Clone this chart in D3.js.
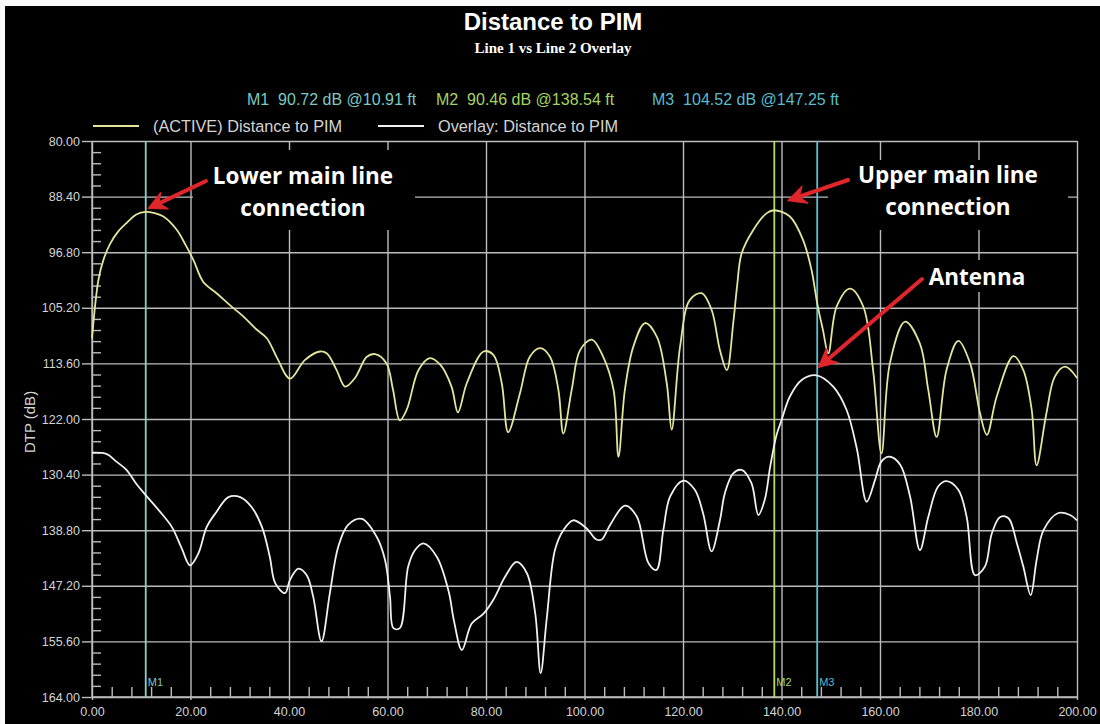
<!DOCTYPE html>
<html>
<head>
<meta charset="utf-8">
<script src="https://cdn.jsdelivr.net/npm/d3@7"></script>
<style>
  html, body { margin: 0; padding: 0; background: #fff; }
  svg { display: block; }
  text { white-space: pre; }
</style>
</head>
<body>
<svg id="chart" width="1100" height="724"></svg>
<script>
// ---- Data ---------------------------------------------------------------
// Active trace: distance (ft) and DTP level (dB)
const activeFt = [0, 1.3, 2.3, 3.7, 5.3, 7.0, 9.0, 10.9, 12.7, 14.5, 17.2, 19.0, 20.6, 22.6, 25.3, 28.0, 30.7,
  33.3, 35.5, 37.6, 40.2, 43.2, 46.3, 47.7, 49.6, 51.4, 53.4, 55.8, 57.5, 59.8, 61.1, 62.5, 63.9, 66.3,
  68.6, 70.7, 73.0, 74.3, 76.1, 79.5, 81.5, 83.2, 84.5, 86.9, 88.9, 91.0, 93.0, 94.7, 95.7, 97.4, 99.1,
  101.5, 103.8, 105.9, 106.9, 108.2, 109.9, 112.3, 114.7, 116.7, 117.7, 119.4, 121.4, 123.8, 125.8, 127.5,
  128.9, 130.2, 131.0, 131.9, 134.3, 137.0, 138.5, 141.7, 144.4, 146.1, 147.25, 148.4, 149.5, 151.2, 153.9, 156.6,
  158.6, 160.3, 162.0, 165.1, 168.1, 169.8, 171.5, 173.5, 175.9, 178.3, 180.3, 181.7, 183.7, 187.1, 189.1,
  190.8, 191.8, 193.8, 195.5, 197.6, 200];
const activeDb = [109.8, 101.0, 98.0, 95.5, 93.7, 92.4, 91.1, 90.7, 90.9, 91.4, 93.4, 95.7, 98.0, 101.3, 103.0, 104.8, 106.5,
  108.4, 109.8, 112.8, 115.9, 113.1, 111.8, 112.1, 114.5, 117.1, 115.8, 112.6, 112.2, 113.6, 117.5, 122.2, 120.6, 114.6,
  112.8, 113.8, 117.1, 121.0, 116.6, 111.8, 112.3, 116.6, 124.0, 118.1, 112.6, 111.3, 112.6, 117.6, 124.2, 117.6, 111.6,
  110.0, 112.6, 117.6, 127.7, 117.6, 111.1, 107.5, 109.6, 116.6, 123.6, 111.1, 104.0, 103.0, 105.5, 111.6,
  114.6, 107.5, 101.8, 97.0, 93.4, 90.9, 90.46, 91.4, 95.0, 99.5, 104.52, 108.5, 112.1, 105.0, 102.3, 105.0,
  114.6, 127.2, 113.6, 107.3, 110.6, 117.6, 124.7, 114.6, 110.2, 113.6, 121.1, 124.4, 118.6, 112.5, 114.6,
  120.6, 129.0, 121.1, 115.6, 114.1, 115.8];

// Overlay trace: distance (ft) and DTP level (dB)
const overlayFt = [0, 3.0, 4.9, 7.0, 9.1, 10.9, 13.8, 16.2, 18.2, 19.9, 21.6, 23.3, 25.3, 27.7, 30.1, 32.4, 34.5,
  36.1, 37.2, 39.2, 40.2, 41.9, 43.6, 44.9, 46.6, 48.3, 50.0, 52.0, 54.8, 57.8, 59.5, 60.5, 61.2, 62.5, 64.2,
  65.6, 67.3, 70.0, 72.4, 73.5, 75.1, 77.1, 79.5, 81.5, 83.9, 86.2, 88.3, 90.0, 91.1, 92.3, 94.0, 95.7, 97.7,
  100.4, 102.4, 103.5, 105.2, 108.2, 110.6, 113.0, 114.6, 116.0, 117.4, 120.1, 122.4, 124.1, 125.8, 127.5,
  128.5, 130.2, 131.9, 133.9, 135.3, 136.6, 137.7, 139.0, 140.0, 141.7, 144.1, 147.1, 150.5, 153.2, 155.3,
  157.3, 159.0, 160.3, 162.0, 164.1, 166.1, 168.1, 169.8, 171.8, 173.5, 175.9, 177.6, 179.3, 181.3, 182.7,
  184.4, 186.1, 187.8, 189.1, 190.6, 191.8, 193.2, 196.2, 198.6, 200];
const overlayDb = [127.1, 127.3, 128.4, 129.7, 131.9, 133.5, 136.0, 138.3, 141.5, 144.1, 142.3, 138.3, 136.0, 133.8, 133.8, 135.3, 138.3,
  142.8, 146.8, 148.3, 146.3, 144.6, 145.6, 148.8, 155.6, 148.3, 141.3, 138.0, 137.1, 139.8, 143.3, 148.8, 153.6, 153.6, 144.3,
  141.8, 140.8, 142.8, 148.0, 152.5, 156.9, 152.9, 151.4, 149.3, 145.8, 143.6, 145.3, 151.4, 160.4, 152.4, 141.8, 138.8, 137.3,
  138.5, 140.2, 140.2, 138.0, 135.1, 136.7, 143.8, 144.8, 138.8, 133.7, 131.3, 132.7, 136.3, 142.0, 137.3,
  133.2, 130.2, 129.7, 131.7, 136.5, 134.2, 129.2, 124.4, 122.2, 118.6, 116.1, 115.4, 117.1, 120.6, 126.5,
  134.5, 131.2, 128.4, 127.7, 128.9, 133.7, 141.8, 136.8, 132.2, 131.4, 132.7, 136.8, 145.6, 144.3, 139.3,
  136.8, 137.0, 140.8, 144.3, 148.6, 143.3, 138.8, 136.2, 136.5, 137.3];

// Axis ticks
const xTicks = [0, 20, 40, 60, 80, 100, 120, 140, 160, 180, 200];
const yTicks = [80, 88.4, 96.8, 105.2, 113.6, 122, 130.4, 138.8, 147.2, 155.6, 164];

// Markers
const markerNames = ["M1", "M2", "M3"];
const markerFt = [10.91, 138.54, 147.25];
const markerDb = [90.72, 90.46, 104.52];

// Series names
const seriesNames = ["(ACTIVE) Distance to PIM", "Overlay: Distance to PIM"];

// ---- Layout & style ------------------------------------------------------
const W = 1100, H = 724;
const plot = { left: 92, right: 1077, top: 141, bottom: 697 };
const FONT = "Liberation Sans, Arial, sans-serif";
const COL = {
  bg: "#000",
  grid: "#bcbcbc",
  label: "#d4d4d4",
  active: "#e4e49c",
  overlay: "#f0f0f0",
  red: "#e0262b",
  markerLine: ["#8ccfc9", "#b6dc58", "#5fbfcf"],
  markerText: ["#7fc8c0", "#a4d460", "#58bccd"]
};

const svg = d3.select("#chart");

// page frame: thin light edge on top/left, black canvas
svg.append("rect").attr("width", W).attr("height", H).attr("fill", "#fafafa");
svg.append("rect").attr("x", 5).attr("y", 6).attr("width", W - 5).attr("height", H - 6).attr("fill", COL.bg);

const x = d3.scaleLinear().domain([0, 200]).range([plot.left, plot.right]);
const y = d3.scaleLinear().domain([80, 164]).range([plot.top, plot.bottom]);

// ---- Titles --------------------------------------------------------------
svg.append("text").attr("x", 553).attr("y", 30).attr("text-anchor", "middle")
  .attr("font-family", FONT).attr("font-weight", "bold")
  .attr("font-size", 24).attr("fill", "#fff").text("Distance to PIM");
svg.append("text").attr("x", 553).attr("y", 53).attr("text-anchor", "middle")
  .attr("font-family", "Liberation Serif, Times New Roman, serif").attr("font-weight", "bold")
  .attr("font-size", 15).attr("fill", "#fff").text("Line 1 vs Line 2 Overlay");

// Marker readout row
const readoutX = [247, 436, 652];
markerNames.forEach((m, i) => {
  svg.append("text").attr("x", readoutX[i]).attr("y", 105)
    .attr("font-family", FONT).attr("font-size", 16)
    .attr("fill", COL.markerText[i])
    .text(`${m}  ${markerDb[i].toFixed(2)} dB @${markerFt[i].toFixed(2)} ft`);
});

// Legend
const legendX = [93, 378];
const legendColors = [COL.active, COL.overlay];
seriesNames.forEach((s, i) => {
  svg.append("line").attr("x1", legendX[i]).attr("x2", legendX[i] + 46)
    .attr("y1", 126).attr("y2", 126).attr("stroke", legendColors[i]).attr("stroke-width", 2);
  svg.append("text").attr("x", legendX[i] + 60).attr("y", 131.5)
    .attr("font-family", FONT).attr("font-size", 16.3)
    .attr("fill", COL.label).text(s);
});

// ---- Grid & axes ---------------------------------------------------------
const styleAxis = g => {
  g.selectAll("path.domain").attr("stroke", COL.grid).attr("stroke-width", 1.4);
  g.selectAll(".tick line").attr("stroke", COL.grid).attr("stroke-width", 1.4);
  g.selectAll(".tick text").attr("fill", COL.label)
    .attr("font-family", FONT).attr("font-size", 12.5);
};

// horizontal gridlines
svg.append("g").attr("transform", `translate(${plot.left},0)`)
  .call(d3.axisLeft(y).tickValues(yTicks).tickSize(-(plot.right - plot.left)).tickFormat(""))
  .call(styleAxis).call(g => g.select(".domain").remove());
// vertical gridlines
svg.append("g").attr("transform", `translate(0,${plot.bottom})`)
  .call(d3.axisBottom(x).tickValues(xTicks).tickSize(-(plot.bottom - plot.top)).tickFormat(""))
  .call(styleAxis).call(g => g.select(".domain").remove());

// minor ticks (5 subdivisions between majors)
const yMinor = d3.range(0, 51).map(i => 80 + i * 1.68).filter((v, i) => i % 5 !== 0);
const xMinor = d3.range(0, 51).map(i => i * 4).filter((v, i) => i % 5 !== 0);
svg.append("g").attr("transform", `translate(${plot.left},0)`)
  .call(d3.axisLeft(y).tickValues(yMinor).tickSize(-9).tickFormat(""))
  .call(styleAxis).call(g => g.select(".domain").remove());
svg.append("g").attr("transform", `translate(0,${plot.bottom})`)
  .call(d3.axisBottom(x).tickValues(xMinor).tickSize(-10).tickFormat(""))
  .call(styleAxis).call(g => g.select(".domain").remove());

// labelled axes
svg.append("g").attr("transform", `translate(${plot.left},0)`)
  .call(d3.axisLeft(y).tickValues(yTicks).tickSize(10).tickPadding(2).tickFormat(d3.format(".2f")))
  .call(g => g.select(".domain").attr("d", `M0,${plot.top}V${plot.bottom}`))
  .call(styleAxis);
svg.append("g").attr("transform", `translate(0,${plot.bottom})`)
  .call(d3.axisBottom(x).tickValues(xTicks).tickSize(3).tickPadding(7).tickFormat(d3.format(".2f")))
  .call(g => g.select(".domain").attr("d", `M${plot.left},0H${plot.right}`))
  .call(styleAxis);

svg.append("text")
  .attr("transform", `translate(35,${(plot.top + plot.bottom) / 2 + 3}) rotate(-90)`)
  .attr("text-anchor", "middle").attr("font-family", FONT)
  .attr("font-size", 15).attr("fill", COL.label).text("DTP (dB)");

// ---- Annotation backing panels (hide the grid under the callout text) ----
const panels = [
  [193, 150, 222, 80],
  [828, 160, 240, 70],
  [924, 260, 106, 32]
];
svg.append("g").selectAll("rect").data(panels).join("rect")
  .attr("x", d => d[0]).attr("y", d => d[1]).attr("width", d => d[2]).attr("height", d => d[3])
  .attr("fill", COL.bg);

// ---- Marker lines --------------------------------------------------------
const markers = svg.append("g");
markerFt.forEach((ft, i) => {
  markers.append("line").attr("x1", x(ft)).attr("x2", x(ft))
    .attr("y1", plot.top).attr("y2", plot.bottom)
    .attr("stroke", COL.markerLine[i]).attr("stroke-width", 1.8);
  markers.append("text").attr("x", x(ft) + 2).attr("y", 686)
    .attr("font-family", FONT).attr("font-size", 11)
    .attr("fill", COL.markerText[i]).text(markerNames[i]);
});

// ---- Traces --------------------------------------------------------------
const line = d3.line().x(d => x(d[0])).y(d => y(d[1])).curve(d3.curveCatmullRom.alpha(0.5));
svg.append("path").datum(d3.zip(overlayFt, overlayDb))
  .attr("fill", "none").attr("stroke", COL.overlay).attr("stroke-width", 1.8)
  .attr("stroke-linejoin", "round").attr("d", line);
svg.append("path").datum(d3.zip(activeFt, activeDb))
  .attr("fill", "none").attr("stroke", COL.active).attr("stroke-width", 1.8)
  .attr("stroke-linejoin", "round").attr("d", line);

// ---- Callouts ------------------------------------------------------------
const callouts = [
  { lines: ["Lower main line", "connection"], cx: 303, y0: 184, tail: [206, 181], head: [x(11.4), y(90.2)] },
  { lines: ["Upper main line", "connection"], cx: 948, y0: 183, tail: [848, 180], head: [x(141.3), y(89.0)] },
  { lines: ["Antenna"], cx: 977, y0: 285, tail: [922, 279], head: [x(147.5), y(114.2)] }
];
callouts.forEach(c => {
  const t = svg.append("text").attr("text-anchor", "middle")
    .attr("font-family", "Open Sans, Lato, sans-serif").attr("font-weight", "bold")
    .attr("font-size", 22.5).attr("fill", "#fff");
  c.lines.forEach((l, i) => t.append("tspan").attr("x", c.cx).attr("y", c.y0 + i * 32).text(l));

  const [tx, ty] = c.tail, [hx, hy] = c.head;
  const ang = Math.atan2(hy - ty, hx - tx);
  const len = 18, half = 9;
  const bx = hx - len * Math.cos(ang), by = hy - len * Math.sin(ang);
  svg.append("line").attr("x1", tx).attr("y1", ty)
    .attr("x2", hx - 8 * Math.cos(ang)).attr("y2", hy - 8 * Math.sin(ang))
    .attr("stroke", COL.red).attr("stroke-width", 4).attr("stroke-linecap", "round");
  const p1 = [bx + half * Math.sin(ang), by - half * Math.cos(ang)];
  const p2 = [bx - half * Math.sin(ang), by + half * Math.cos(ang)];
  const notch = [hx - (len - 6) * Math.cos(ang), hy - (len - 6) * Math.sin(ang)];
  svg.append("path")
    .attr("d", `M${hx},${hy}L${p1[0]},${p1[1]}L${notch[0]},${notch[1]}L${p2[0]},${p2[1]}Z`)
    .attr("fill", COL.red).attr("stroke", COL.red).attr("stroke-width", 1.2)
    .attr("stroke-linejoin", "round");
});
</script>
</body>
</html>
